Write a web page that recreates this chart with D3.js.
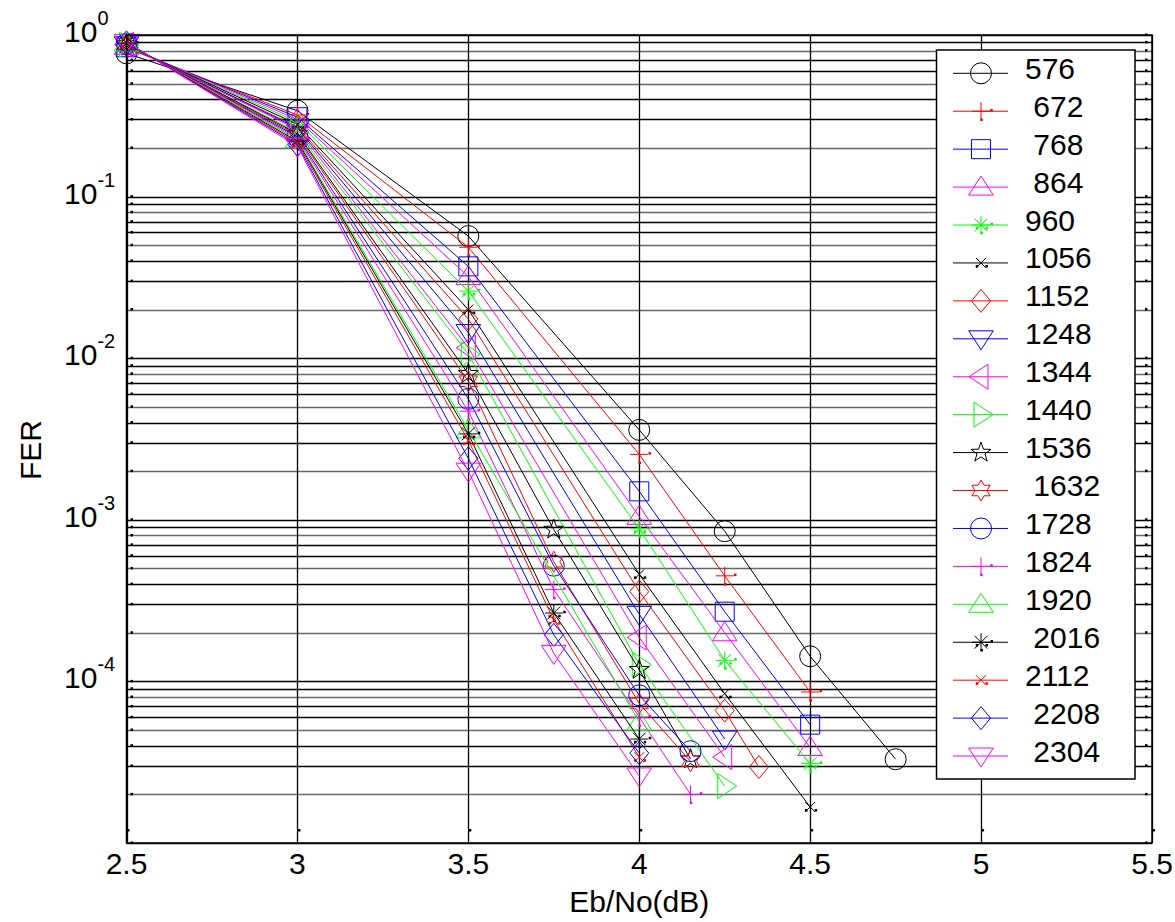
<!DOCTYPE html>
<html>
<head>
<meta charset="utf-8">
<script src="https://cdn.jsdelivr.net/npm/d3@7"></script>
<style>
  body { margin: 0; background: #fff; }
  svg text { font-family: "Liberation Sans", Arial, Helvetica, sans-serif; fill: #000; }
</style>
</head>
<body>
<svg class="fer-chart"></svg>
<script>
// block lengths, one curve each
var blockLengths = ["576", "672", "768", "864", "960", "1056", "1152", "1248", "1344", "1440",
                    "1536", "1632", "1728", "1824", "1920", "2016", "2112", "2208", "2304"];
// legend text as it shows in the figure (some have a leading space)
var legendLabels = ["576", " 672", " 768", " 864", "960", "1056", "1152", "1248", "1344", "1440",
                    "1536", " 1632", "1728", "1824", "1920", " 2016", "2112", " 2208", " 2304"];
var seriesColors = ["#000000", "#ff0000", "#0000ff", "#ff00ff", "#00ff00",
                    "#000000", "#ff0000", "#0000ff", "#ff00ff", "#00ff00",
                    "#000000", "#ff0000", "#0000ff", "#ff00ff", "#00ff00",
                    "#000000", "#ff0000", "#0000ff", "#ff00ff"];
var seriesMarkers = ["o", "+", "s", "^", "*", "x", "d", "v", "<", ">",
                     "p", "h", "o", "+", "^", "*", "x", "d", "v"];

// Eb/No points (dB) for every curve
var ebno = [
  [2.5, 3, 3.5, 4, 4.25, 4.5, 4.75],
  [2.5, 3, 3.5, 4, 4.25, 4.5],
  [2.5, 3, 3.5, 4, 4.25, 4.5],
  [2.5, 3, 3.5, 4, 4.25, 4.5],
  [2.5, 3, 3.5, 4, 4.25, 4.5],
  [2.5, 3, 3.5, 4, 4.25, 4.5],
  [2.5, 3, 3.5, 4, 4.25, 4.35],
  [2.5, 3, 3.5, 4, 4.25],
  [2.5, 3, 3.5, 4, 4.25],
  [2.5, 3, 3.5, 4, 4.25],
  [2.5, 3, 3.5, 3.75, 4, 4.15],
  [2.5, 3, 3.5, 3.75, 4, 4.15],
  [2.5, 3, 3.5, 3.75, 4, 4.15],
  [2.5, 3, 3.5, 3.75, 4, 4.15],
  [2.5, 3, 3.5, 4],
  [2.5, 3, 3.5, 3.75, 4],
  [2.5, 3, 3.5, 3.75, 4],
  [2.5, 3, 3.5, 3.75, 4],
  [2.5, 3, 3.5, 3.75, 4]
];
// frame error rate
var fer = [
  [0.77, 0.34, 0.057, 3.6e-3, 8.5e-4, 1.43e-4, 3.3e-5],
  [0.83, 0.32, 0.0486, 2.54e-3, 4.5e-4, 8.6e-5],
  [0.84, 0.31, 0.037, 1.5e-3, 2.7e-4, 5.4e-5],
  [0.85, 0.30, 0.032, 1.05e-3, 2.0e-4, 3.9e-5],
  [0.85, 0.29, 0.026, 8.8e-4, 1.35e-4, 3.1e-5],
  [0.86, 0.28, 0.020, 4.6e-4, 8.4e-5, 1.67e-5],
  [0.86, 0.27, 0.0175, 3.6e-4, 6.6e-5, 2.95e-5],
  [0.87, 0.265, 0.0144, 2.6e-4, 4.4e-5],
  [0.87, 0.26, 0.0116, 1.87e-4, 3.4e-5],
  [0.87, 0.25, 0.0106, 1.27e-4, 2.25e-5],
  [0.88, 0.245, 0.0080, 8.7e-4, 1.18e-4, 3.3e-5],
  [0.88, 0.24, 0.0072, 5.5e-4, 7.3e-5, 3.2e-5],
  [0.88, 0.235, 0.0056, 5.2e-4, 8.2e-5, 3.7e-5],
  [0.89, 0.23, 0.0047, 3.7e-4, 6.0e-5, 2.0e-5],
  [0.89, 0.225, 0.0036, 5.6e-5],
  [0.89, 0.22, 0.0034, 2.65e-4, 4.4e-5],
  [0.90, 0.215, 0.0031, 2.4e-4, 3.4e-5],
  [0.90, 0.21, 0.0024, 1.94e-4, 3.6e-5],
  [0.90, 0.205, 0.0020, 1.49e-4, 2.6e-5]
];

var xTicks = [2.5, 3, 3.5, 4, 4.5, 5, 5.5];
var yExponents = [0, -1, -2, -3, -4];

var chartW = 1175, chartH = 922;
var svg = d3.select(".fer-chart").attr("width", chartW).attr("height", chartH);

// plot box in pixels
var plotLeft = 126.5, plotRight = 1152, plotTop = 35, plotBottom = 843;

var xScale = d3.scaleLinear().domain([2.5, 5.5]).range([plotLeft, plotRight]);
var yScale = d3.scaleLog().domain([1e-5, 1]).range([plotBottom, plotTop]);

// groups for z-order
var gGrid = svg.append("g").attr("id", "grid");
var gLines = svg.append("g").attr("id", "lines");
var gLegend = svg.append("g").attr("id", "legend");
var gAxis = svg.append("g").attr("id", "axis");

// grid lines (major + minor, matlab style)
gGrid.selectAll("line.hgrid")
  .data(yScale.ticks())
  .enter()
  .append("line")
  .attr("class", "hgrid")
  .attr("x1", plotLeft).attr("x2", plotRight)
  .attr("y1", function(d){ return Math.round(yScale(d)) + 0.5; })
  .attr("y2", function(d){ return Math.round(yScale(d)) + 0.5; })
  .attr("stroke", function(d, i){ return i % 3 == 1 ? "#666" : "#000"; })
  .attr("stroke-width", 1.3);

gGrid.selectAll("line.vgrid")
  .data(xTicks)
  .enter()
  .append("line")
  .attr("class", "vgrid")
  .attr("y1", plotTop).attr("y2", plotBottom)
  .attr("x1", function(d){ return Math.round(xScale(d)) + 0.5; })
  .attr("x2", function(d){ return Math.round(xScale(d)) + 0.5; })
  .attr("stroke", "#000")
  .attr("stroke-width", 1.3);

// little tick dots on the left / right edges
gGrid.selectAll("rect.ltick")
  .data(yScale.ticks())
  .enter()
  .append("rect")
  .attr("class", "ltick")
  .attr("x", plotLeft + 4)
  .attr("y", function(d){ return yScale(d) - 1.5; })
  .attr("width", 2.5).attr("height", 2.5)
  .attr("fill", "#000");
gGrid.selectAll("rect.rtick")
  .data(yScale.ticks())
  .enter()
  .append("rect")
  .attr("class", "rtick")
  .attr("x", plotRight - 7)
  .attr("y", function(d){ return yScale(d) - 1.5; })
  .attr("width", 2.5).attr("height", 2.5)
  .attr("fill", "#000");
gGrid.selectAll("rect.btick")
  .data(xTicks)
  .enter()
  .append("rect")
  .attr("class", "btick")
  .attr("x", function(d){ return xScale(d) + 0.5; })
  .attr("y", plotBottom - 14)
  .attr("width", 2.5).attr("height", 2.5)
  .attr("fill", "#000");

// marker shapes, centred on 0,0
function markerPath(m){
  switch(m){
    case "o": return "M-10.5,0A10.5,10.5 0 1,0 10.5,0A10.5,10.5 0 1,0 -10.5,0Z";
    case "+": return "M-9,0H9M0,-9V9";
    case "s": return "M-9.5,-9.5H9.5V9.5H-9.5Z";
    case "^": return "M0,-11L12.3,8L-12.3,8Z";
    case "v": return "M0,11L12.3,-8L-12.3,-8Z";
    case "<": return "M-12,0L7,-12.5L7,12.5Z";
    case ">": return "M12,0L-7,-12.5L-7,12.5Z";
    case "*": return "M-9,0H9M0,-9V9M-6.4,-6.4L6.4,6.4M-6.4,6.4L6.4,-6.4";
    case "x": return "M-5,-5L5,5M-5,5L5,-5";
    case "d": return "M0,-11.5L9.5,0L0,11.5L-9.5,0Z";
    case "p": return starPath(5, 10.5, 4.2);
    case "h": return starPath(6, 10.5, 6.06);
  }
  return "";
}

function starPath(n, ro, ri){
  var pts = [];
  for(var k = 0; k < 2 * n; k++){
    var a = -Math.PI / 2 + k * Math.PI / n;
    var r = k % 2 ? ri : ro;
    pts.push([r * Math.cos(a), r * Math.sin(a)]);
  }
  return "M" + pts.map(function(p){ return p[0].toFixed(2) + "," + p[1].toFixed(2); }).join("L") + "Z";
}

// the small square specks that show next to +, * and x markers in the figure
var markerSpecks = {
  "+": [[10.5, -1], [0.5, 8.5]],
  "*": [[-4, 3], [5.7, 3], [10.7, -1], [0.7, 8]],
  "x": [[-4, 3.3], [5.7, 3.3]]
};

function drawMarker(g, m, color){
  g.append("path")
    .attr("d", markerPath(m))
    .attr("fill", "none")
    .attr("stroke", color)
    .attr("stroke-width", 1);
  (markerSpecks[m] || []).forEach(function(s){
    g.append("rect")
      .attr("x", s[0] - 1.25).attr("y", s[1] - 1.25)
      .attr("width", 2.5).attr("height", 2.5)
      .attr("fill", color);
  });
}

var line = d3.line()
  .x(function(d){ return xScale(d[0]); })
  .y(function(d){ return yScale(d[1]); });

for(var i = 0; i < blockLengths.length; i++){
  var pts = ebno[i].map(function(e, j){ return [e, fer[i][j]]; });
  var gs = gLines.append("g").attr("class", "series s" + blockLengths[i]);
  gs.append("path")
    .datum(pts)
    .attr("d", line)
    .attr("fill", "none")
    .attr("stroke", seriesColors[i])
    .attr("stroke-width", 1);
  for(var j = 0; j < pts.length; j++){
    var gm = gs.append("g")
      .attr("transform", "translate(" + xScale(pts[j][0]) + "," + yScale(pts[j][1]) + ")");
    drawMarker(gm, seriesMarkers[i], seriesColors[i]);
  }
}

// axes box
gAxis.append("rect")
  .attr("x", plotLeft).attr("y", plotTop)
  .attr("width", plotRight - plotLeft).attr("height", plotBottom - plotTop)
  .attr("fill", "none")
  .attr("stroke", "#000")
  .attr("stroke-width", 1.5);

// x tick labels
gAxis.selectAll("text.xlab")
  .data(xTicks)
  .enter()
  .append("text")
  .attr("class", "xlab")
  .attr("x", function(d){ return xScale(d); })
  .attr("y", plotBottom + 31)
  .attr("text-anchor", "middle")
  .attr("font-size", 30)
  .text(function(d){ return d; });

// y tick labels: 10^k
var ylab = gAxis.selectAll("text.ylab")
  .data(yExponents)
  .enter()
  .append("text")
  .attr("class", "ylab")
  .attr("x", 64)
  .attr("y", function(d){ return yScale(Math.pow(10, d)) + 7; })
  .attr("font-size", 30);
ylab.append("tspan").text("10");
ylab.append("tspan")
  .attr("font-size", 20)
  .attr("dy", -17)
  .text(function(d){ return d; });

// axis titles
gAxis.append("text")
  .attr("x", (plotLeft + plotRight) / 2)
  .attr("y", 912)
  .attr("text-anchor", "middle")
  .attr("font-size", 30)
  .text("Eb/No(dB)");

gAxis.append("text")
  .attr("transform", "translate(41,450) rotate(-90)")
  .attr("text-anchor", "middle")
  .attr("font-size", 30)
  .text("FER");

// legend
var legX = 936.5, legY = 50, legW = 198.5, legH = 729;
var rowY0 = 73.3, rowStep = 37.93;

gLegend.append("rect")
  .attr("x", legX).attr("y", legY)
  .attr("width", legW).attr("height", legH)
  .attr("fill", "#fff")
  .attr("stroke", "#000")
  .attr("stroke-width", 1.5);

for(var k = 0; k < blockLengths.length; k++){
  var cy = rowY0 + k * rowStep;
  gLegend.append("line")
    .attr("x1", 953).attr("x2", 1008)
    .attr("y1", cy).attr("y2", cy)
    .attr("stroke", seriesColors[k])
    .attr("stroke-width", 1);
  var lm = gLegend.append("g").attr("transform", "translate(981," + cy + ")");
  drawMarker(lm, seriesMarkers[k], seriesColors[k]);
  gLegend.append("text")
    .attr("x", 1025)
    .attr("y", cy + 5.5)
    .attr("font-size", 30)
    .style("white-space", "pre")
    .attr("xml:space", "preserve")
    .text(legendLabels[k]);
}
</script>
</body>
</html>
